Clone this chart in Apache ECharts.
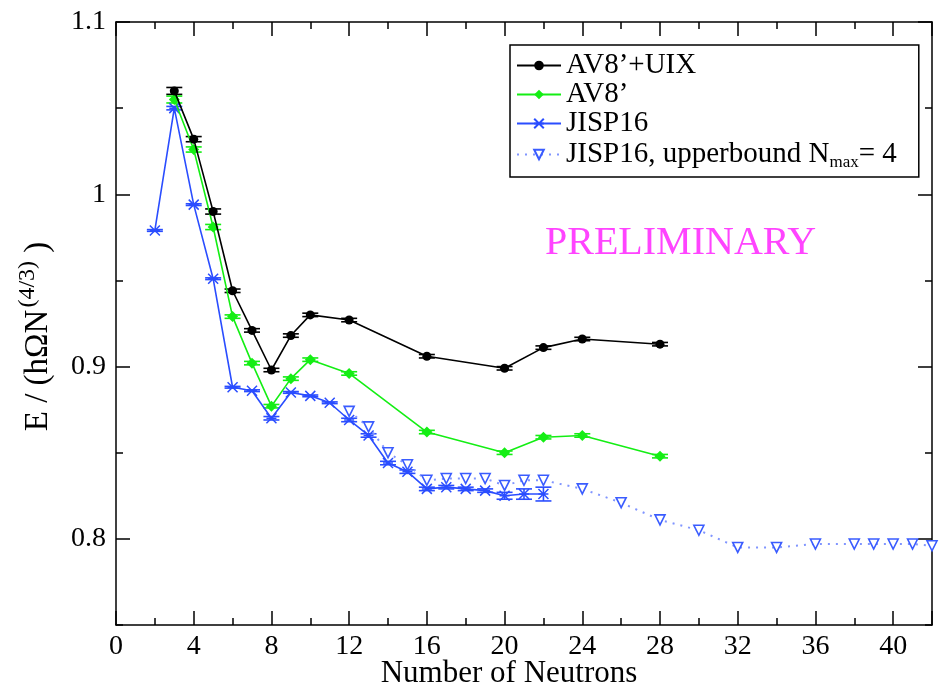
<!DOCTYPE html>
<html>
<head>
<meta charset="utf-8">
<script src="https://cdn.jsdelivr.net/npm/echarts@6/dist/echarts.min.js"></script>
<style>
  html, body { margin: 0; padding: 0; background: #fff; }
  #chart { width: 941px; height: 690px; }
</style>
</head>
<body>
<div id="chart"></div>
<script>
// Neutron-drop energies per neutron count, E / (hΩ N^(4/3))
const nAV8UIX = [3, 4, 5, 6, 7, 8, 9, 10, 12, 16, 20, 22, 24, 28];
const eAV8UIX = [1.060, 1.032, 0.990, 0.944, 0.921, 0.898, 0.918, 0.930, 0.927, 0.906, 0.899, 0.911, 0.916, 0.913];
const errAV8UIX = [0.002, 0.0015, 0.0015, 0.001, 0.001, 0.001, 0.001, 0.001, 0.001, 0.001, 0.001, 0.001, 0.001, 0.001];

const nAV8 = [3, 4, 5, 6, 7, 8, 9, 10, 12, 16, 20, 22, 24, 28];
const eAV8 = [1.055, 1.026, 0.981, 0.929, 0.902, 0.877, 0.893, 0.904, 0.896, 0.862, 0.850, 0.859, 0.860, 0.848];
const errAV8 = [0.002, 0.0015, 0.0015, 0.001, 0.001, 0.001, 0.001, 0.001, 0.001, 0.001, 0.001, 0.001, 0.001, 0.001];

const nJISP = [2, 3, 4, 5, 6, 7, 8, 9, 10, 11, 12, 13, 14, 15, 16, 17, 18, 19, 20, 21, 22];
const eJISP = [0.979, 1.050, 0.994, 0.951, 0.888, 0.886, 0.870, 0.885, 0.883, 0.879, 0.869, 0.860, 0.844, 0.839, 0.829, 0.830, 0.829, 0.828, 0.825, 0.826, 0.826];
const errJISP = [0.0005, 0.001, 0.0005, 0.0005, 0.0005, 0.0005, 0.001, 0.0005, 0.0005, 0.0005, 0.001, 0.001, 0.001, 0.001, 0.001, 0.001, 0.001, 0.001, 0.002, 0.003, 0.004];

const nUpper = [12, 13, 14, 15, 16, 17, 18, 19, 20, 21, 22, 24, 26, 28, 30, 32, 34, 36, 38, 39, 40, 41, 42];
const eUpper = [0.874, 0.865, 0.850, 0.843, 0.834, 0.835, 0.835, 0.835, 0.831, 0.834, 0.834, 0.829, 0.821, 0.811, 0.805, 0.795, 0.795, 0.797, 0.797, 0.797, 0.797, 0.797, 0.796];

// axis ticks
const yMajorTicks = [0.8, 0.9, 1.0, 1.1];
const yMinorTicks = [0.75, 0.8, 0.85, 0.9, 0.95, 1.0, 1.05, 1.1];

const NAME_UIX = 'AV8’+UIX';
const NAME_AV8 = 'AV8’';
const NAME_JISP = 'JISP16';
const NAME_UPPER = 'JISP16, upperbound Nmax = 4';

const BLACK = '#000000';
const GREEN = '#14ee14';
const BLUE = '#2a4dff';
const BLUE_LIGHT = '#3a5cff';
const SERIF = '"Liberation Serif", "DejaVu Serif", serif';

const zip = (xs, ys, es) => xs.map((x, i) => es ? [x, ys[i], es[i]] : [x, ys[i]]);

function errorBars(name, color, data) {
  return {
    type: 'custom',
    name: name + ' err',
    xAxisIndex: 0,
    yAxisIndex: 0,
    z: 3,
    silent: true,
    data: data,
    renderItem: function (params, api) {
      const x = api.value(0), y = api.value(1), e = api.value(2);
      const top = api.coord([x, y + e]);
      const bot = api.coord([x, y - e]);
      const w = 8;
      const st = { stroke: color, lineWidth: 1.6 };
      return {
        type: 'group',
        children: [
          { type: 'line', shape: { x1: top[0], y1: top[1], x2: bot[0], y2: bot[1] }, style: st },
          { type: 'line', shape: { x1: top[0] - w, y1: top[1], x2: top[0] + w, y2: top[1] }, style: st },
          { type: 'line', shape: { x1: bot[0] - w, y1: bot[1], x2: bot[0] + w, y2: bot[1] }, style: st }
        ]
      };
    }
  };
}

const starSymbol = 'path://M0,0L10,10M10,0L0,10M0,5L10,5';

const tickLabel = { fontFamily: SERIF, fontSize: 28, color: '#000' };
const axisLineStyle = { color: '#000', width: 1.5 };

const chart = echarts.init(document.getElementById('chart'), null, { renderer: 'canvas' });

chart.setOption({
  backgroundColor: '#ffffff',
  animation: false,
  grid: { left: 116, right: 9, top: 22, bottom: 65, containLabel: false, outerBoundsMode: 'none' },
  legend: {
    data: [NAME_UIX, NAME_AV8, NAME_JISP, NAME_UPPER],
    orient: 'vertical',
    left: 510,
    top: 45,
    itemWidth: 44,
    itemHeight: 12,
    itemGap: 0,
    padding: [6, 22, 6, 6],
    borderColor: '#000',
    borderWidth: 1.5,
    backgroundColor: '#fff',
    textStyle: {
      fontFamily: SERIF,
      fontSize: 29,
      lineHeight: 29,
      color: '#000',
      rich: {
        sub: { fontFamily: SERIF, fontSize: 17, lineHeight: 29, color: '#000', padding: [16, 0, 0, 0] }
      }
    },
    formatter: function (name) {
      if (name === NAME_UPPER) return 'JISP16, upperbound N{sub|max}= 4';
      return name;
    }
  },
  xAxis: [
    {
      type: 'value', min: 0, max: 42, interval: 4, position: 'bottom',
      name: 'Number of Neutrons', nameLocation: 'middle', nameGap: 33, nameMoveOverlap: false,
      nameTextStyle: { fontFamily: SERIF, fontSize: 31, color: '#000', padding: [0, 30, 0, 0] },
      axisLine: { lineStyle: axisLineStyle },
      axisTick: { inside: true, length: 14, lineStyle: axisLineStyle },
      minorTick: { show: true, splitNumber: 2, length: 7, lineStyle: axisLineStyle },
      axisLabel: { ...tickLabel, margin: 8, showMaxLabel: false },
      splitLine: { show: false }
    },
    {
      type: 'value', min: 0, max: 42, interval: 4, position: 'top',
      axisLine: { lineStyle: axisLineStyle },
      axisTick: { inside: true, length: 14, lineStyle: axisLineStyle },
      minorTick: { show: true, splitNumber: 2, length: 7, lineStyle: axisLineStyle },
      axisLabel: { show: false },
      splitLine: { show: false }
    }
  ],
  yAxis: [
    {
      type: 'value', min: 0.75, max: 1.1, position: 'left',
      name: 'E / (hΩN{sup|(4/3)} )', nameLocation: 'middle', nameGap: 56,
      nameTextStyle: {
        fontFamily: SERIF, fontSize: 33, color: '#000', padding: [0, 26, 0, 0],
        rich: { sup: { fontFamily: SERIF, fontSize: 24, color: '#000', padding: [0, 0, 20, 2] } }
      },
      axisLine: { lineStyle: axisLineStyle },
      axisTick: { inside: true, length: 14, customValues: yMajorTicks, lineStyle: axisLineStyle },
      axisLabel: { ...tickLabel, margin: 10, customValues: yMajorTicks, formatter: v => (Math.round(v * 10) / 10).toString() },
      splitLine: { show: false }
    },
    {
      type: 'value', min: 0.75, max: 1.1, position: 'left',
      axisLine: { show: false },
      axisTick: { inside: true, length: 7, customValues: yMinorTicks, lineStyle: axisLineStyle },
      axisLabel: { show: false },
      splitLine: { show: false }
    },
    {
      type: 'value', min: 0.75, max: 1.1, position: 'right',
      axisLine: { show: true, lineStyle: axisLineStyle },
      axisTick: { inside: true, length: 14, customValues: yMajorTicks, lineStyle: axisLineStyle },
      axisLabel: { show: false },
      splitLine: { show: false }
    },
    {
      type: 'value', min: 0.75, max: 1.1, position: 'right',
      axisLine: { show: false },
      axisTick: { inside: true, length: 7, customValues: yMinorTicks, lineStyle: axisLineStyle },
      axisLabel: { show: false },
      splitLine: { show: false }
    }
  ],
  graphic: [
    {
      type: 'text', left: 545, top: 223,
      style: { text: 'PRELIMINARY', fontFamily: SERIF, fontSize: 40, fill: '#ff44ff' }
    }
  ],
  series: [
    errorBars(NAME_UIX, BLACK, zip(nAV8UIX, eAV8UIX, errAV8UIX)),
    errorBars(NAME_AV8, GREEN, zip(nAV8, eAV8, errAV8)),
    errorBars(NAME_JISP, BLUE, zip(nJISP, eJISP, errJISP)),
    {
      name: NAME_UPPER, type: 'line', z: 4,
      data: zip(nUpper, eUpper),
      symbol: 'triangle', symbolRotate: 180, symbolSize: 10,
      itemStyle: { color: '#ffffff', borderColor: BLUE_LIGHT, borderWidth: 1.6 },
      lineStyle: { color: '#8095ff', width: 2, type: [2, 6] }
    },
    {
      name: NAME_JISP, type: 'line', z: 5,
      data: zip(nJISP, eJISP),
      symbol: starSymbol, symbolSize: 10,
      itemStyle: { color: BLUE, borderColor: BLUE, borderWidth: 1.5 },
      lineStyle: { color: BLUE, width: 1.6 }
    },
    {
      name: NAME_AV8, type: 'line', z: 6,
      data: zip(nAV8, eAV8),
      symbol: 'diamond', symbolSize: 11,
      itemStyle: { color: GREEN, borderColor: GREEN, borderWidth: 0 },
      lineStyle: { color: GREEN, width: 1.6 }
    },
    {
      name: NAME_UIX, type: 'line', z: 7,
      data: zip(nAV8UIX, eAV8UIX),
      symbol: 'circle', symbolSize: 9,
      itemStyle: { color: BLACK, borderColor: BLACK, borderWidth: 0 },
      lineStyle: { color: BLACK, width: 1.6 }
    }
  ]
});
</script>
</body>
</html>
